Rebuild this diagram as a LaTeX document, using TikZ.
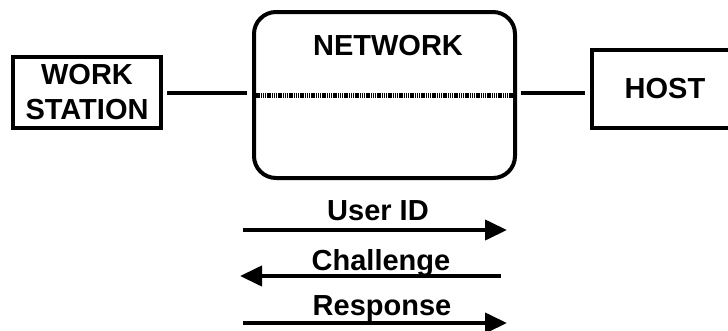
\documentclass[tikz,border=0pt]{standalone}
\usepackage{fontspec}
\setmainfont{Liberation Sans}
\usetikzlibrary{arrows.meta,positioning,calc}
\tikzstyle{box}=[draw,line width=4pt,inner sep=0pt,font=\bfseries\fontsize{29}{35}\selectfont,align=center]
\tikzstyle{link}=[line width=4pt,shorten <=4pt,shorten >=5pt]
\tikzstyle{msg}=[line width=4pt,-{Triangle[length=22pt,width=20pt]}]
\tikzstyle{tag}=[anchor=base,inner sep=0pt,font=\bfseries\fontsize{29}{35}\selectfont]

\begin{document}
\begin{tikzpicture}[x=1pt,y=-1pt]
\useasboundingbox (0,0) rectangle (728,330);
\clip (0,0) rectangle (728,330);
% stations
\node [box,minimum width=148pt,minimum height=71pt] (ws) at (87,92.5) {WORK\\STATION};
\node [box,rounded corners=22pt,minimum width=261pt,minimum height=166pt] (net) at (384.5,95) {};
\node [tag] (nettitle) at (388,55) {NETWORK};
\node [box,minimum width=146pt,minimum height=78pt] (host) at (665,89) {HOST};
% links
\draw [link] (ws.east) -- (ws.east -| net.west);
\draw [link] (net.east |- ws.east) -- (host.west |- ws.east);
\draw [line width=5pt,draw=black,dash pattern=on 1.3pt off 0.9pt,shorten <=2pt,shorten >=2pt] (net.west) -- (net.east);
% messages
\coordinate (uidL) at (243,230);
\coordinate (uidR) at (507,230);
\coordinate (chL) at (240,276);
\coordinate (chR) at (501,276);
\coordinate (rspL) at (243,323);
\coordinate (rspR) at (507,323);
\node [tag] (uid) at (378,220) {User ID};
\node [tag] (ch) at (381,270) {Challenge};
\node [tag] (rsp) at (382,315) {Response};
\draw [msg] (uidL) -- (uidR);
\draw [msg] (chR) -- (chL);
\draw [msg] (rspL) -- (rspR);
\end{tikzpicture}
\end{document}
